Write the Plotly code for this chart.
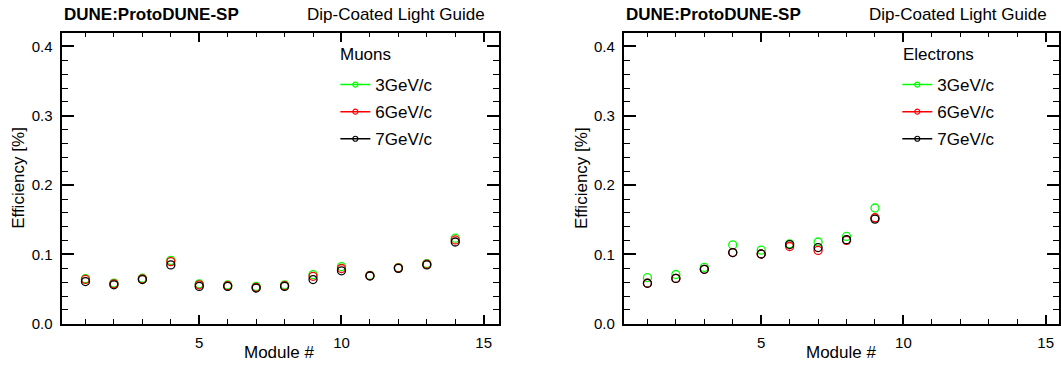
import plotly.graph_objects as go

# module numbers
muon_modules = [1, 2, 3, 4, 5, 6, 7, 8, 9, 10, 11, 12, 13, 14]
electron_modules = [1, 2, 3, 4, 5, 6, 7, 8, 9]

# efficiencies
muon_3gev = [0.065, 0.0587, 0.0657, 0.0915, 0.0577, 0.056, 0.054, 0.0563, 0.0709, 0.0826, 0.070, 0.081, 0.0869, 0.1235]
muon_6gev = [0.064, 0.0577, 0.0648, 0.0897, 0.0563, 0.0549, 0.0526, 0.055, 0.0685, 0.0798, 0.0695, 0.0807, 0.086, 0.121]
muon_7gev = [0.061, 0.0563, 0.0638, 0.085, 0.054, 0.054, 0.0516, 0.054, 0.0638, 0.0765, 0.069, 0.080, 0.085, 0.118]

electron_3gev = [0.0665, 0.0711, 0.0814, 0.1138, 0.1063, 0.1153, 0.118, 0.126, 0.167]
electron_6gev = [0.0585, 0.0655, 0.0786, 0.1028, 0.1007, 0.1115, 0.1059, 0.1204, 0.153]
electron_7gev = [0.0585, 0.0655, 0.0786, 0.1028, 0.1007, 0.1143, 0.110, 0.1214, 0.151]

momenta = ["3GeV/c", "6GeV/c", "7GeV/c"]
colors = ["#00ff00", "#ff0000", "#000000"]
legend_titles = ["Muons", "Electrons"]

W, H = 1061, 369
FONT = "Liberation Sans, Arial, Helvetica, sans-serif"

fig = go.Figure()

panels = [
    ("x", "y", "legend", muon_modules, [muon_3gev, muon_6gev, muon_7gev]),
    ("x2", "y2", "legend2", electron_modules, [electron_3gev, electron_6gev, electron_7gev]),
]

for xa, ya, leg, mods, series in panels:
    for name, color, vals in zip(momenta, colors, series):
        fig.add_trace(go.Scatter(
            x=mods, y=vals, xaxis=xa, yaxis=ya, mode="markers",
            marker=dict(symbol="circle-open", size=8, color=color,
                        line=dict(width=1.3, color=color)),
            showlegend=False, hoverinfo="x+y",
        ))
        # legend-only entry: line + small marker like ROOT's "lp"
        fig.add_trace(go.Scatter(
            x=[None], y=[None], xaxis=xa, yaxis=ya, mode="lines+markers",
            name=name, legend=leg, legendgroup=leg + name,
            line=dict(color=color, width=1.5),
            marker=dict(symbol="circle-open", size=5, color=color,
                        line=dict(width=1.2, color=color)),
        ))

y_dom = [38 / H, 335.7 / H]
xdoms = [[61.7 / W, 500 / W], [625 / W, 1.0]]
xranges = [[0.16, 15.54], [0.17, 15.47]]

axis_common = dict(
    showgrid=False, zeroline=False, showline=True, linecolor="black", linewidth=2,
    mirror="ticks", ticks="inside", tickcolor="black", tickwidth=1.5,
    tickfont=dict(family=FONT, size=15, color="black"),
)
x_minor = dict(dtick=1, ticks="inside", ticklen=4.5, tickwidth=1.2, tickcolor="black")
y_minor = dict(dtick=0.02, ticks="inside", ticklen=6, tickwidth=1.2, tickcolor="black")

fig.update_layout(
    xaxis=dict(domain=xdoms[0], range=xranges[0], anchor="y", dtick=5, tick0=0, ticklen=9,
               ticklabelstandoff=4, minor=x_minor, **axis_common),
    yaxis=dict(domain=y_dom, range=[0, 0.42], anchor="x", dtick=0.1, tick0=0, ticklen=12,
               tickformat=".1f", ticklabelstandoff=4, minor=y_minor, **axis_common),
    xaxis2=dict(domain=xdoms[1], range=xranges[1], anchor="y2", dtick=5, tick0=0, ticklen=9,
                ticklabelstandoff=4, minor=x_minor, **axis_common),
    yaxis2=dict(domain=y_dom, range=[0, 0.42], anchor="x2", dtick=0.1, tick0=0, ticklen=12,
                tickformat=".1f", ticklabelstandoff=4, minor=y_minor, **axis_common),
    legend=dict(x=336 / W, y=1 - 68.5 / H, xanchor="left", yanchor="top",
                font=dict(family=FONT, size=17, color="black"),
                bgcolor="rgba(0,0,0,0)", tracegroupgap=2),
    legend2=dict(x=899 / W, y=1 - 68.5 / H, xanchor="left", yanchor="top",
                 font=dict(family=FONT, size=17, color="black"),
                 bgcolor="rgba(0,0,0,0)", tracegroupgap=2),
    width=W, height=H, autosize=False,
    margin=dict(l=0, r=0, t=0, b=0),
    paper_bgcolor="white", plot_bgcolor="white",
    font=dict(family=FONT, size=17, color="black"),
)

annotations = []
for i, (x0, x1) in enumerate(xdoms):
    right_edge = x1 * W if i == 0 else 1063
    text_font = dict(family=FONT, size=17, color="black")
    annotations += [
        dict(text="<b>DUNE:ProtoDUNE-SP</b>", x=x0, y=1 - 15 / H, xref="paper", yref="paper",
             xanchor="left", yanchor="middle", showarrow=False, font=text_font),
        dict(text="Dip-Coated Light Guide", x=(right_edge - 12.5) / W, y=1 - 15 / H,
             xref="paper", yref="paper", xanchor="right", yanchor="middle", showarrow=False,
             font=text_font),
        dict(text="Module #", x=(x0 * W + (right_edge - x0 * W) / 2 - 1) / W, y=1 - 360 / H,
             xref="paper", yref="paper", xanchor="center", yanchor="middle", showarrow=False,
             font=text_font),
        dict(text="Efficiency [%]", x=(x0 * W - 43) / W, y=(y_dom[0] + y_dom[1]) / 2,
             xref="paper", yref="paper", xanchor="center", yanchor="middle", showarrow=False,
             textangle=-90, font=text_font),
        dict(text=legend_titles[i], x=(x0 * W + (277.3 if i == 0 else 277.7)) / W, y=1 - 56 / H,
             xref="paper", yref="paper", xanchor="left", yanchor="middle", showarrow=False,
             font=text_font),
    ]
fig.update_layout(annotations=annotations)

fig.write_html("out.html", config={"displayModeBar": False},
               post_script="document.body.style.margin='0';")
